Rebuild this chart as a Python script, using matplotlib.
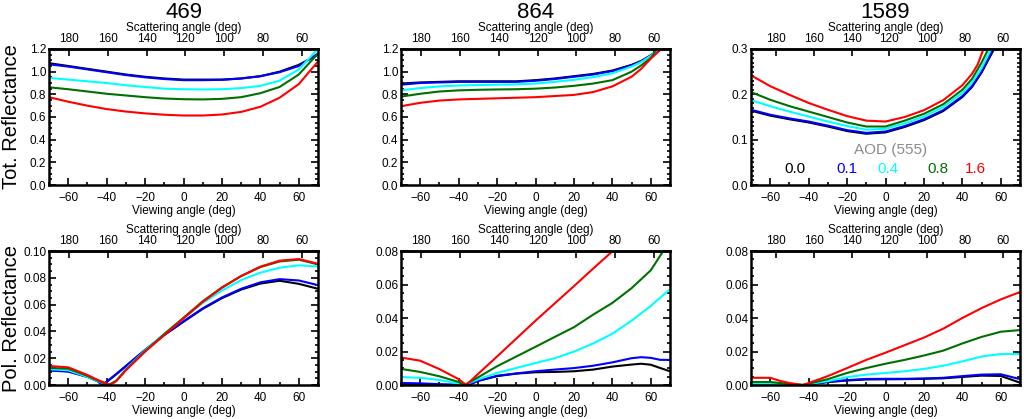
import matplotlib
matplotlib.use("Agg")
import matplotlib.pyplot as plt
from matplotlib.ticker import MultipleLocator, FormatStrFormatter

plt.rcParams['font.family'] = ['Liberation Sans', 'DejaVu Sans']

# AOD (555) values and their colours
aod_labels = ['0.0', '0.1', '0.4', '0.8', '1.6']
aod_colors = ['#000000', '#0000ff', '#00ffff', '#007000', '#ff0000']

wavelengths = ['469', '864', '1589']

# viewing angle at which the scattering angle is 180 and 60 deg (per column)
view_at_scat180 = [-59.5, -59.6, -57.0]
view_at_scat60 = [61.5, 61.7, 61.0]

grid10 = [-70, -60, -50, -40, -30, -20, -10, 0, 10, 20, 30, 40, 50, 60, 70]

# ---- total reflectance, 469 nm ----
tot469 = [
    (grid10, [1.075, 1.05, 1.025, 1.0, 0.975, 0.955, 0.94, 0.93, 0.93, 0.93, 0.94, 0.96, 1.0, 1.06, 1.15]),
    (grid10, [1.065, 1.045, 1.02, 0.995, 0.97, 0.95, 0.935, 0.925, 0.925, 0.928, 0.94, 0.96, 0.995, 1.05, 1.16]),
    (grid10, [0.945, 0.93, 0.915, 0.9, 0.88, 0.865, 0.85, 0.845, 0.843, 0.845, 0.855, 0.875, 0.92, 1.02, 1.2]),
    (grid10, [0.862, 0.845, 0.825, 0.805, 0.79, 0.775, 0.763, 0.757, 0.755, 0.76, 0.775, 0.81, 0.865, 0.975, 1.16]),
    (grid10, [0.775, 0.735, 0.70, 0.67, 0.648, 0.632, 0.62, 0.613, 0.613, 0.622, 0.645, 0.69, 0.77, 0.89, 1.09]),
]

# ---- total reflectance, 864 nm ----
x864 = [-70, -60, -50, -40, -30, -20, -10, 0, 10, 20, 30, 40, 50, 55, 60]
tot864 = [
    (x864 + [65.0], [0.895, 0.905, 0.91, 0.915, 0.915, 0.915, 0.915, 0.925, 0.94, 0.96, 0.98, 1.01, 1.06, 1.095, 1.145, 1.2]),
    (x864 + [65.5], [0.885, 0.90, 0.905, 0.91, 0.91, 0.91, 0.91, 0.92, 0.935, 0.955, 0.975, 1.005, 1.055, 1.09, 1.14, 1.2]),
    (x864 + [64.0], [0.835, 0.855, 0.87, 0.878, 0.882, 0.885, 0.888, 0.895, 0.91, 0.928, 0.952, 0.985, 1.045, 1.085, 1.14, 1.2]),
    (x864 + [63.0], [0.78, 0.805, 0.825, 0.835, 0.84, 0.843, 0.845, 0.85, 0.86, 0.875, 0.895, 0.925, 1.0, 1.055, 1.12, 1.2]),
    (x864 + [65.5], [0.695, 0.725, 0.745, 0.755, 0.76, 0.765, 0.77, 0.775, 0.785, 0.795, 0.82, 0.87, 0.955, 1.025, 1.115, 1.2]),
]

# ---- total reflectance, 1589 nm ----
x1589 = [-70, -60, -50, -40, -30, -20, -10, 0, 10, 20, 30, 40, 45]
tot1589 = [
    (x1589 + [50, 56.5], [0.164, 0.153, 0.145, 0.138, 0.129, 0.119, 0.113, 0.116, 0.128, 0.143, 0.163, 0.194, 0.216, 0.248, 0.3]),
    (x1589 + [50, 56.0], [0.166, 0.155, 0.147, 0.14, 0.131, 0.121, 0.115, 0.118, 0.130, 0.145, 0.165, 0.196, 0.218, 0.25, 0.3]),
    (x1589 + [50, 55.0], [0.187, 0.174, 0.162, 0.151, 0.14, 0.13, 0.122, 0.124, 0.136, 0.151, 0.172, 0.203, 0.226, 0.258, 0.3]),
    (x1589 + [50, 53.5], [0.205, 0.188, 0.174, 0.162, 0.15, 0.138, 0.129, 0.129, 0.142, 0.157, 0.178, 0.21, 0.234, 0.27, 0.3]),
    (x1589 + [48, 51.0], [0.242, 0.218, 0.199, 0.181, 0.166, 0.152, 0.142, 0.140, 0.150, 0.165, 0.187, 0.22, 0.245, 0.266, 0.3]),
]

# ---- polarized reflectance, 469 nm ----
xp469a = [-70, -60, -50, -45, -42, -40, -35, -30, -20, -10, 0, 10, 20, 30, 40, 50, 60, 70]
xp469b = [-70, -60, -50, -45, -39, -35, -30, -20, -10, 0, 10, 20, 30, 40, 50, 60, 70]
xp469c = [-70, -60, -50, -45, -38, -35, -30, -20, -10, 0, 10, 20, 30, 40, 50, 60, 70]
pol469 = [
    (xp469a, [0.0112, 0.0102, 0.0062, 0.0032, 0.0, 0.0022, 0.0080, 0.0140, 0.026, 0.0373, 0.0472, 0.0568, 0.0648, 0.0712, 0.0757, 0.0778, 0.0755, 0.0718]),
    (xp469a, [0.0108, 0.0100, 0.0060, 0.0030, 0.0, 0.0025, 0.0082, 0.0142, 0.0262, 0.0375, 0.0475, 0.0572, 0.0653, 0.0718, 0.0766, 0.079, 0.078, 0.0745]),
    (xp469b, [0.0118, 0.011, 0.006, 0.003, 0.0, 0.0035, 0.0118, 0.0258, 0.0383, 0.0497, 0.0612, 0.0705, 0.0783, 0.0838, 0.0875, 0.0893, 0.0885]),
    (xp469b, [0.0128, 0.0122, 0.0068, 0.0035, 0.0, 0.003, 0.0112, 0.0252, 0.038, 0.0502, 0.0625, 0.0728, 0.0813, 0.088, 0.0922, 0.0935, 0.090]),
    (xp469c, [0.0142, 0.0132, 0.0075, 0.0040, 0.0, 0.003, 0.011, 0.0249, 0.0373, 0.0497, 0.062, 0.0726, 0.0813, 0.0883, 0.0928, 0.094, 0.0905]),
]

# ---- polarized reflectance, 864 nm ----
xp864a = [-70, -60, -50, -40, -35, -30, -20, -10, 0, 10, 20, 30, 40, 50, 55, 60, 65, 70]
xp864b = [-70, -60, -50, -40, -37, -30, -20, -10, 0, 10, 20, 30, 40, 50, 60, 70]
pol864 = [
    (xp864a, [0.0, 0.0, 0.0, 0.0, 0.0, 0.0024, 0.0053, 0.0068, 0.0076, 0.0078, 0.0082, 0.0092, 0.011, 0.0122, 0.0127, 0.0121, 0.0101, 0.0082]),
    (xp864a, [0.0012, 0.001, 0.0005, 0.0002, 0.0, 0.0025, 0.0055, 0.0069, 0.0082, 0.0092, 0.0101, 0.0115, 0.0135, 0.016, 0.0166, 0.0162, 0.015, 0.015]),
    (xp864b, [0.0047, 0.0043, 0.003, 0.0009, 0.0, 0.0033, 0.0072, 0.0102, 0.0131, 0.016, 0.0199, 0.0248, 0.0306, 0.0384, 0.0472, 0.0572]),
    ([-70, -60, -50, -40, -37, -30, -20, -10, 0, 10, 20, 30, 40, 50, 60, 66.5],
     [0.0096, 0.0078, 0.0052, 0.0018, 0.0, 0.0045, 0.0112, 0.017, 0.0228, 0.0287, 0.0345, 0.042, 0.049, 0.0578, 0.0685, 0.08]),
    ([-70, -60, -50, -40, -36, -30, -20, -10, 0, 10, 20, 30, 40.2],
     [0.0164, 0.0145, 0.0095, 0.0035, 0.0, 0.0065, 0.017, 0.0277, 0.0384, 0.0487, 0.059, 0.0695, 0.08]),
]

# ---- polarized reflectance, 1589 nm ----
xp1589 = [-70, -60, -55, -50, -43, -40, -30, -20, -10, 0, 10, 20, 30, 40, 50, 60, 70]
pol1589 = [
    (xp1589, [0.0, 0.0, 0.0, 0.0, 0.0, 0.0003, 0.0017, 0.0027, 0.0033, 0.0034, 0.0035, 0.0037, 0.004, 0.0048, 0.0056, 0.0054, 0.0014]),
    (xp1589, [0.0, 0.0, 0.0, 0.0, 0.0, 0.0004, 0.002, 0.0029, 0.0036, 0.0037, 0.0037, 0.0039, 0.0043, 0.0053, 0.0062, 0.0064, 0.0035]),
    (xp1589, [0.0008, 0.0008, 0.0005, 0.0003, 0.0, 0.0006, 0.0023, 0.0047, 0.0062, 0.0072, 0.0082, 0.0096, 0.0115, 0.0141, 0.017, 0.0185, 0.0185]),
    (xp1589, [0.0018, 0.0018, 0.0012, 0.0006, 0.0, 0.0008, 0.0035, 0.0072, 0.0101, 0.0127, 0.015, 0.0176, 0.0205, 0.0248, 0.0287, 0.0318, 0.0328]),
    (xp1589, [0.0043, 0.0043, 0.0025, 0.0012, 0.0, 0.0012, 0.0053, 0.0101, 0.015, 0.0193, 0.0238, 0.0283, 0.0336, 0.04, 0.0459, 0.0511, 0.0555]),
]

panels = [[tot469, tot864, tot1589], [pol469, pol864, pol1589]]
ylims = [[1.2, 1.2, 0.3], [0.10, 0.08, 0.08]]
ymajor = [[0.2, 0.2, 0.1], [0.02, 0.02, 0.02]]
yminor = [[0.05, 0.05, 0.01], [0.005, 0.005, 0.005]]
yfmt = [['%.1f', '%.1f', '%.1f'], ['%.2f', '%.2f', '%.2f']]

fig = plt.figure(figsize=(10.24, 4.19), dpi=100)

W = 1024.0
H = 419.0
lefts = [49, 401, 751]
rows = [(49, 185), (251, 385)]
fs = 8.5

for r in range(2):
    for c in range(3):
        top, bot = rows[r]
        ax = fig.add_axes([lefts[c] / W, 1 - bot / H, 269 / W, (bot - top) / H])
        for (xs, ys), col in zip(panels[r][c], aod_colors):
            ax.plot(xs, ys, color=col, lw=1.5, solid_capstyle='butt')
        ax.set_xlim(-70, 70)
        ax.set_ylim(0, ylims[r][c])
        ax.xaxis.set_major_locator(MultipleLocator(20))
        ax.xaxis.set_minor_locator(MultipleLocator(10))
        ax.yaxis.set_major_locator(MultipleLocator(ymajor[r][c]))
        ax.yaxis.set_minor_locator(MultipleLocator(yminor[r][c]))
        ax.yaxis.set_major_formatter(FormatStrFormatter(yfmt[r][c]))
        ax.tick_params(which='both', direction='in', top=False, right=True,
                       labelsize=fs, width=1.2, colors='black')
        ax.tick_params(axis='x', pad=5)
        ax.tick_params(axis='y', pad=2)
        ax.tick_params(which='major', length=5)
        ax.tick_params(which='minor', length=2.5)
        for sp in ax.spines.values():
            sp.set_linewidth(1.8)
        ax.set_xlabel('Viewing angle (deg)', fontsize=fs, labelpad=1)

        v180 = view_at_scat180[c]
        v60 = view_at_scat60[c]
        k = (60.0 - 180.0) / (v60 - v180)

        def fwd(v, v180=v180, k=k):
            return 180.0 + k * (v - v180)

        def inv(s, v180=v180, k=k):
            return v180 + (s - 180.0) / k

        sec = ax.secondary_xaxis('top', functions=(fwd, inv))
        sec.set_xticks([180, 160, 140, 120, 100, 80, 60])
        sec.tick_params(direction='in', length=5, width=1.2, labelsize=fs, pad=3)
        sec.xaxis.set_minor_locator(MultipleLocator(200))
        sec.spines['top'].set_linewidth(1.8)
        sec.set_xlabel('Scattering angle (deg)', fontsize=fs, labelpad=1)

        if r == 0:
            fig.text((lefts[c] + 134.5) / W, 1 - 12 / H, wavelengths[c],
                     ha='center', va='center', fontsize=16)

        if r == 0 and c == 2:
            ax.text(0.517, 0.257, 'AOD (555)', transform=ax.transAxes, ha='center',
                    va='center', fontsize=11, color='#8c8c8c')
            label_x = [0.164, 0.357, 0.509, 0.695, 0.833]
            for lx, lab, col in zip(label_x, aod_labels, aod_colors):
                ax.text(lx, 0.118, lab, transform=ax.transAxes, ha='center',
                        va='center', fontsize=11, color=col)

fig.text(12 / W, 1 - 117 / H, 'Tot. Reflectance', rotation=90, ha='center',
         va='center', fontsize=14.5)
fig.text(12 / W, 1 - 318 / H, 'Pol. Reflectance', rotation=90, ha='center',
         va='center', fontsize=14.5)

fig.savefig('out.png', dpi=100)
